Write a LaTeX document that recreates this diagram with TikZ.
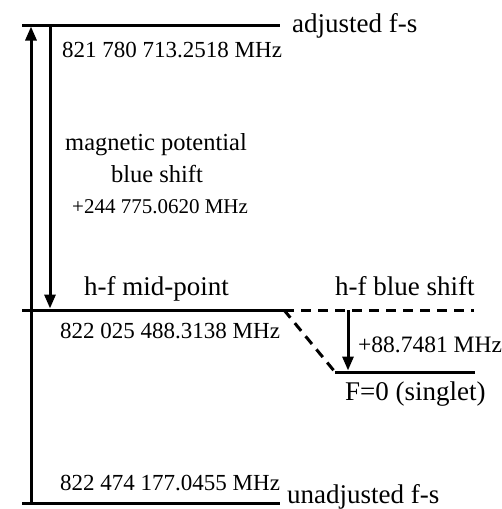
\documentclass[tikz,border=0pt]{standalone}
\usepackage{fontspec}
\setmainfont{Liberation Serif}
\usetikzlibrary{arrows.meta}
\begin{document}
\begin{tikzpicture}[x=1pt,y=-1pt,
  level/.style={line width=3pt},
  dashedlevel/.style={line width=3pt,dash pattern=on 10pt off 7pt},
  shiftarrow/.style={line width=3pt,-{Triangle[length=14pt,width=11pt]}},
  lbl/.style={anchor=base west,inner sep=0pt,font=\fontsize{27}{30}\selectfont},
  num/.style={anchor=base west,inner sep=0pt,font=\fontsize{23}{27}\selectfont}]
\useasboundingbox (0,0) rectangle (502,509);
% coordinates
\coordinate (tl) at (22,25);
\coordinate (tr) at (280,25);
\coordinate (ml) at (22,310);
\coordinate (mr) at (284,310);
\coordinate (md) at (474,310);
\coordinate (ll) at (335,372);
\coordinate (lr) at (475,372);
\coordinate (bl) at (22,503);
\coordinate (br) at (280,503);
\coordinate (a1b) at (31,503);
\coordinate (a1t) at (31,26.5);
\coordinate (a2t) at (50,25);
\coordinate (a2b) at (50,308.5);
\coordinate (a3t) at (348,310);
\coordinate (a3b) at (348,370.5);
% levels
\draw[level] (tl) -- (tr);
\draw[level] (ml) -- (mr);
\draw[dashedlevel] (mr) -- (md);
\draw[dashedlevel] (mr) -- (ll);
\draw[level] (ll) -- (lr);
\draw[level] (bl) -- (br);
% arrows
\draw[shiftarrow] (a1b) -- (a1t);
\draw[shiftarrow] (a2t) -- (a2b);
\draw[shiftarrow] (a3t) -- (a3b);
% labels
\node[lbl] (adj) at (292,32) {adjusted f-s};
\node[num] (n1) at (62,57) {821 780 713.2518 MHz};
\node[lbl,font=\fontsize{24.5}{28}\selectfont] (mag) at (65,150) {magnetic potential};
\node[lbl,anchor=base,font=\fontsize{24.5}{28}\selectfont] (blue) at (157,182) {blue shift};
\node[num,font=\fontsize{21}{25}\selectfont] (n2) at (72,213) {+244 775.0620 MHz};
\node[lbl] (mid) at (84,295) {h-f mid-point};
\node[lbl] (hfb) at (335,295) {h-f blue shift};
\node[num] (n3) at (60,338) {822 025 488.3138 MHz};
\node[num,font=\fontsize{23.5}{27}\selectfont] (n4) at (358,352) {+88.7481 MHz};
\node[lbl] (sing) at (345,400) {F=0 (singlet)};
\node[num] (n5) at (60,490) {822 474 177.0455 MHz};
\node[lbl] (unadj) at (287,503) {unadjusted f-s};
\end{tikzpicture}
\end{document}
